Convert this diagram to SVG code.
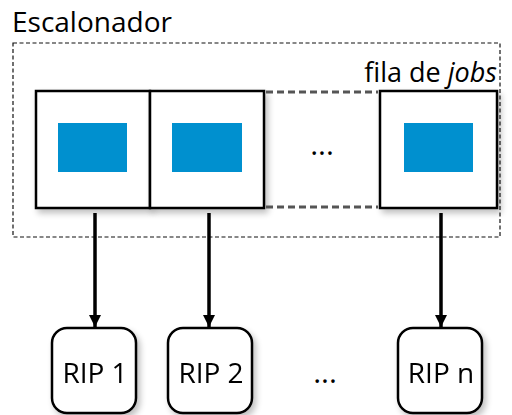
<svg xmlns="http://www.w3.org/2000/svg" width="512" height="415" viewBox="0 0 512 415">
  <defs>
    <filter id="shadow" x="-20%" y="-20%" width="150%" height="150%">
      <feGaussianBlur in="SourceAlpha" stdDeviation="3"/>
      <feOffset dx="3" dy="4" result="b"/>
      <feComponentTransfer><feFuncA type="linear" slope="0.25"/></feComponentTransfer>
      <feMerge><feMergeNode/><feMergeNode in="SourceGraphic"/></feMerge>
    </filter>
    <marker id="arrow" viewBox="0 0 12 12" refX="12" refY="6" markerWidth="12" markerHeight="12" markerUnits="userSpaceOnUse" orient="auto">
      <path d="M0,0 L12,6 L0,12 Z" fill="#000"/>
    </marker>
  </defs>
  <style>
    text { font-family: "Open Sans", "Liberation Sans", sans-serif; fill: #000; }
    .job { fill: #fff; stroke: #000; stroke-width: 2.5; }
    .payload { fill: #0590cf; }
    .rip { fill: #fff; stroke: #000; stroke-width: 2.5; }
    .edge { stroke: #000; stroke-width: 3.5; fill: none; marker-end: url(#arrow); }
    .dots { font-size: 30px; }
  </style>

  <rect width="512" height="415" fill="#fff"/>

  <!-- scheduler boundary -->
  <g id="escalonador">
    <rect x="13" y="43" width="487" height="194" fill="none" stroke="#111" stroke-width="1.2" stroke-dasharray="4,2.5"/>
    <text x="12" y="32" font-size="28">Escalonador</text>
  </g>

  <!-- job queue -->
  <g id="fila">
    <text x="497" y="82" font-size="27" text-anchor="end">fila de <tspan font-style="italic">jobs</tspan></text>
  </g>

  <g id="job1" filter="url(#shadow)">
    <rect class="job" x="36" y="91" width="114" height="117"/>
    <rect class="payload" x="58" y="123" width="69" height="49"/>
  </g>
  <g id="job2" filter="url(#shadow)">
    <rect class="job" x="150" y="91" width="114" height="117"/>
    <rect class="payload" x="172" y="123" width="70" height="49"/>
  </g>
  <g id="job-more">
    <line x1="266" y1="92" x2="378" y2="92" stroke="#555" stroke-width="3" stroke-dasharray="7,4"/>
    <line x1="266" y1="207" x2="378" y2="207" stroke="#555" stroke-width="3" stroke-dasharray="7,4"/>
    <text class="dots" x="322" y="155" text-anchor="middle">...</text>
  </g>
  <g id="jobn" filter="url(#shadow)">
    <rect class="job" x="380" y="91" width="117" height="117"/>
    <rect class="payload" x="404" y="123" width="69" height="49"/>
  </g>

  <!-- dispatch arrows -->
  <g id="connectors">
    <line class="edge" x1="95" y1="213" x2="95" y2="327"/>
    <line class="edge" x1="209" y1="213" x2="209" y2="327"/>
    <line class="edge" x1="441" y1="213" x2="441" y2="327"/>
  </g>

  <!-- RIP workers -->
  <g id="rip1" filter="url(#shadow)">
    <rect class="rip" x="52" y="328" width="84" height="85" rx="15"/>
    <text x="95" y="383" font-size="28" text-anchor="middle">RIP 1</text>
  </g>
  <g id="rip2" filter="url(#shadow)">
    <rect class="rip" x="168" y="328" width="84" height="85" rx="15"/>
    <text x="211" y="383" font-size="28" text-anchor="middle">RIP 2</text>
  </g>
  <g id="rip-more">
    <text class="dots" x="325" y="383" text-anchor="middle">...</text>
  </g>
  <g id="ripn" filter="url(#shadow)">
    <rect class="rip" x="398" y="328" width="84" height="85" rx="15"/>
    <text x="441" y="383" font-size="28" text-anchor="middle">RIP n</text>
  </g>
</svg>
